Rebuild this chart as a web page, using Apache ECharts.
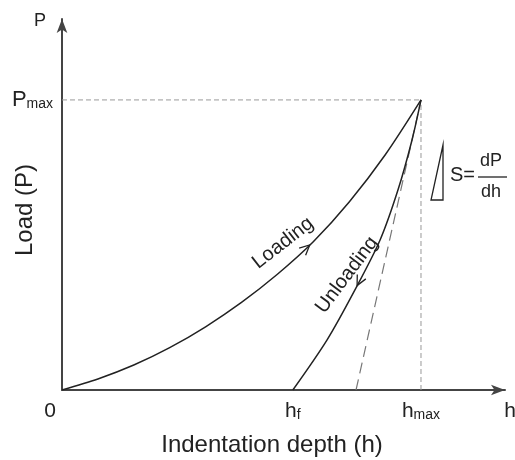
<!DOCTYPE html>
<html>
<head>
<meta charset="utf-8">
<script src="https://cdn.jsdelivr.net/npm/echarts@6/dist/echarts.min.js"></script>
<style>
  html, body { margin: 0; padding: 0; background: #fff; }
  #chart { width: 515px; height: 460px; }
</style>
</head>
<body>
<div id="chart"></div>
<script>
// depth / load normalised so that hmax = Pmax = 1
const loadH = [0, 0.1, 0.2, 0.3, 0.4, 0.5, 0.6, 0.7, 0.8, 0.9, 1.0]
const loadP = [0, 0.038, 0.086, 0.146, 0.218, 0.302, 0.399, 0.511, 0.648, 0.81, 1.0]
const unloadH = [0.643, 0.738, 0.816, 0.886, 0.936, 0.975, 1.0]
const unloadP = [0, 0.172, 0.345, 0.517, 0.69, 0.862, 1.0]
// tangent at the top of the unloading curve
const tangentH = [0.819, 1.0]
const tangentP = [0, 1.0]
const hf = 0.643
const hmax = 1.0
const pmax = 1.0
// arrows on the curves: tip h, tip P, then a point behind it on the curve
const arrowData = [
  [0.69, 0.50, 0.62, 0.421],
  [0.822, 0.36, 0.886, 0.517]
]

const FONT = '"Liberation Sans", Arial, sans-serif'
const INK = '#222'

const pairs = (xs, ys) => xs.map((x, i) => [x, ys[i]])

const chart = echarts.init(document.getElementById('chart'))

chart.setOption({
  animation: false,
  backgroundColor: '#fff',
  grid: {left: 62, right: 10, top: 19, bottom: 70},
  xAxis: {
    type: 'value',
    min: 0,
    max: 1.234,
    splitLine: {show: false},
    axisTick: {show: false},
    axisLine: {
      symbol: ['none', 'arrow'],
      symbolSize: [8, 14],
      lineStyle: {color: '#444', width: 2}
    },
    axisLabel: {
      customValues: [0, hf, hmax],
      margin: 11,
      formatter: function (v) {
        if (v === 0) return '{z|0}'
        if (v === hf) return '{a|h}{s|f}'
        return '{a|h}{s|max}'
      },
      rich: {
        z: {fontSize: 21, fontFamily: FONT, color: INK, padding: [0, 24, 0, 0]},
        a: {fontSize: 21, fontFamily: FONT, color: INK},
        s: {fontSize: 14, fontFamily: FONT, color: INK, verticalAlign: 'bottom'}
      }
    }
  },
  yAxis: {
    type: 'value',
    min: 0,
    max: 1.279,
    splitLine: {show: false},
    axisTick: {show: false},
    axisLine: {
      symbol: ['none', 'arrow'],
      symbolSize: [8, 14],
      lineStyle: {color: '#444', width: 2}
    },
    axisLabel: {
      customValues: [pmax],
      margin: 9,
      formatter: function () {
        return '{a|P}{s|max}'
      },
      rich: {
        a: {fontSize: 22, fontFamily: FONT, color: INK},
        s: {fontSize: 14, fontFamily: FONT, color: INK, verticalAlign: 'bottom'}
      }
    }
  },
  series: [
    {
      name: 'guide P',
      type: 'line',
      data: [[0, pmax], [hmax, pmax]],
      symbol: 'none',
      lineStyle: {color: '#999', width: 1, type: [5, 3]}
    },
    {
      name: 'guide h',
      type: 'line',
      data: [[hmax, 0], [hmax, pmax]],
      symbol: 'none',
      lineStyle: {color: '#999', width: 1, type: [5, 3]}
    },
    {
      name: 'tangent',
      type: 'line',
      data: pairs(tangentH, tangentP),
      symbol: 'none',
      lineStyle: {color: '#777', width: 1.2, type: [11, 6]}
    },
    {
      name: 'Loading',
      type: 'line',
      data: pairs(loadH, loadP),
      symbol: 'none',
      smooth: 0.3,
      lineStyle: {color: INK, width: 1.5}
    },
    {
      name: 'Unloading',
      type: 'line',
      data: pairs(unloadH, unloadP),
      symbol: 'none',
      smooth: 0.3,
      lineStyle: {color: INK, width: 1.5}
    },
    {
      name: 'arrows',
      type: 'custom',
      clip: false,
      data: arrowData,
      encode: {x: 0, y: 1},
      renderItem: function (params, api) {
        const tip = api.coord([api.value(0), api.value(1)])
        const back = api.coord([api.value(2), api.value(3)])
        const ang = Math.atan2(tip[1] - back[1], tip[0] - back[0])
        const len = 11, spread = 0.45
        const p1 = [tip[0] - len * Math.cos(ang - spread), tip[1] - len * Math.sin(ang - spread)]
        const p2 = [tip[0] - len * Math.cos(ang + spread), tip[1] - len * Math.sin(ang + spread)]
        return {
          type: 'polyline',
          shape: {points: [p1, tip, p2]},
          style: {stroke: INK, lineWidth: 1.3, fill: null}
        }
      }
    }
  ],
  graphic: [
    {type: 'text', x: 40, y: 21, style: {text: 'P', fontSize: 18, fontFamily: FONT, fill: INK, align: 'center', verticalAlign: 'middle'}},
    {type: 'text', x: 510, y: 411, style: {text: 'h', fontSize: 21, fontFamily: FONT, fill: INK, align: 'center', verticalAlign: 'middle'}},
    {type: 'text', x: 272, y: 445, style: {text: 'Indentation depth (h)', fontSize: 24, fontFamily: FONT, fill: INK, align: 'center', verticalAlign: 'middle'}},
    {type: 'text', x: 25, y: 210, rotation: Math.PI / 2, style: {text: 'Load (P)', fontSize: 24, fontFamily: FONT, fill: INK, align: 'center', verticalAlign: 'middle'}},
    {type: 'text', x: 283, y: 243, rotation: 38 * Math.PI / 180, style: {text: 'Loading', fontSize: 20, fontFamily: FONT, fill: INK, align: 'center', verticalAlign: 'middle'}},
    {type: 'text', x: 347, y: 275, rotation: 53 * Math.PI / 180, style: {text: 'Unloading', fontSize: 20, fontFamily: FONT, fill: INK, align: 'center', verticalAlign: 'middle'}},
    // stiffness triangle and S = dP/dh
    {type: 'polygon', shape: {points: [[443, 145], [431, 200], [443, 200]]}, style: {stroke: INK, lineWidth: 1.3, fill: 'none'}},
    {type: 'text', x: 450, y: 175, style: {text: 'S=', fontSize: 20, fontFamily: FONT, fill: INK, align: 'left', verticalAlign: 'middle'}},
    {type: 'text', x: 491, y: 161, style: {text: 'dP', fontSize: 18, fontFamily: FONT, fill: INK, align: 'center', verticalAlign: 'middle'}},
    {type: 'line', shape: {x1: 478, y1: 177, x2: 507, y2: 177}, style: {stroke: INK, lineWidth: 1.3}},
    {type: 'text', x: 491, y: 192, style: {text: 'dh', fontSize: 18, fontFamily: FONT, fill: INK, align: 'center', verticalAlign: 'middle'}}
  ]
})
</script>
</body>
</html>
